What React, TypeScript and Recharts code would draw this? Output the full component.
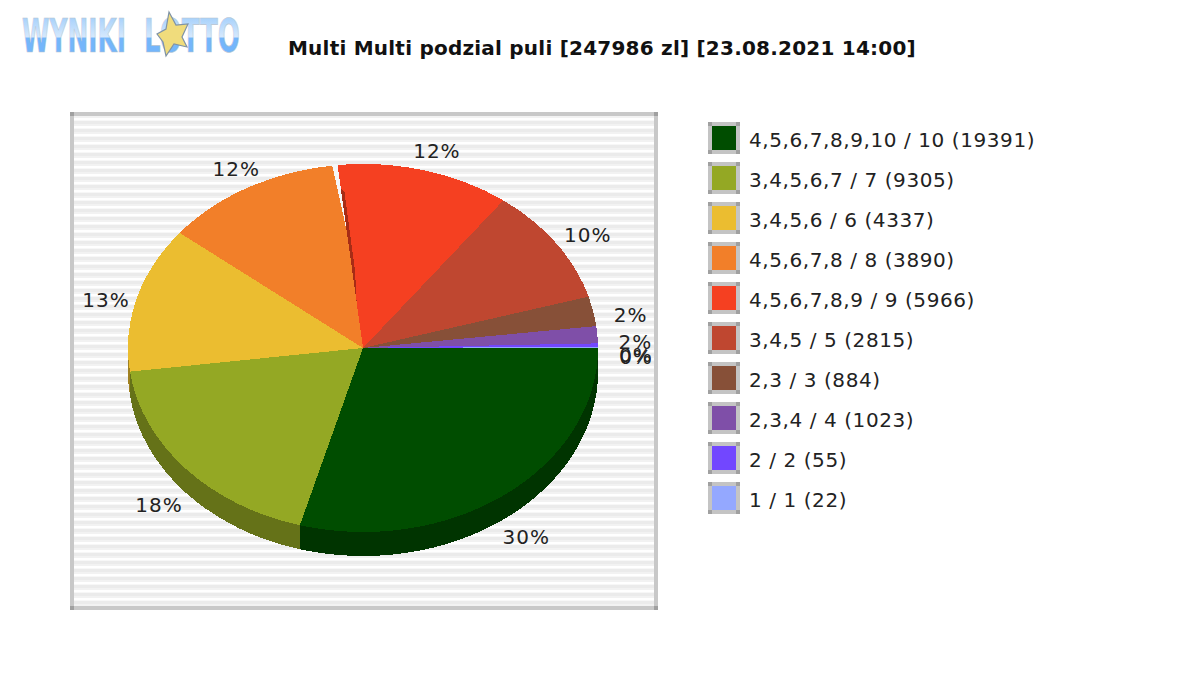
import React from "react";
import { PieChart, Pie, Legend } from "recharts";

const title = "Multi Multi podzial puli [247986 zl] [23.08.2021 14:00]";
const legendNames = [
  "4,5,6,7,8,9,10 / 10 (19391)",
  "3,4,5,6,7 / 7 (9305)",
  "3,4,5,6 / 6 (4337)",
  "4,5,6,7,8 / 8 (3890)",
  "4,5,6,7,8,9 / 9 (5966)",
  "3,4,5 / 5 (2815)",
  "2,3 / 3 (884)",
  "2,3,4 / 4 (1023)",
  "2 / 2 (55)",
  "1 / 1 (22)",
];
const shares = [29.3, 18.6, 12.8, 12.5, 11.9, 10.3, 2.6, 1.5, 0.3, 0.1];
const percentLabels = ["30%", "18%", "13%", "12%", "12%", "10%", "2%", "2%", "0%", "0%"];
const colors = ["#004d00", "#94a824", "#ebbd30", "#f27f29", "#f54021", "#bf4730", "#875038", "#7f4fa8", "#7247ff", "#94a8ff"];

const rows = legendNames.map((name, i) => ({ name, value: shares[i], fill: colors[i], pct: percentLabels[i] }));

const RATIO = 184 / 235;
const DEPTH = 24;
const FONT = "'DejaVu Sans', sans-serif";
const SEAM_SLICE = 4;

const pt = (cx: number, cy: number, rx: number, ry: number, deg: number) => {
  const r = (deg * Math.PI) / 180;
  return [cx + rx * Math.cos(r), cy + ry * Math.sin(r)];
};

const darken = (hex: string, k: number) => {
  const n = parseInt(hex.slice(1), 16);
  const c = [(n >> 16) & 255, (n >> 8) & 255, n & 255].map((v) => Math.round(v * k));
  return `rgb(${c[0]},${c[1]},${c[2]})`;
};

const TopSlice = (p: any) => {
  const rx = p.outerRadius;
  const ry = rx * RATIO;
  const a = -p.startAngle;
  const b = -p.endAngle;
  const [x0, y0] = pt(p.cx, p.cy, rx, ry, a);
  const [x1, y1] = pt(p.cx, p.cy, rx, ry, b);
  const large = b - a > 180 ? 1 : 0;
  const poly = (list: number[][]) =>
    list
      .map(([deg, f]) => pt(p.cx, p.cy, rx * f, ry * f, a + deg))
      .map((q) => q.join(","))
      .join(" ");
  return (
    <g>
      <path
        d={`M${p.cx},${p.cy}L${x0},${y0}A${rx},${ry} 0 ${large} 1 ${x1},${y1}Z`}
        fill={p.fill}
        stroke="none"
        shapeRendering="crispEdges"
      />
      {p.index === SEAM_SLICE && (
        <g shapeRendering="crispEdges">
          <polygon points={poly([[-1.3, 1.005], [0, 1.005], [0, 0.64]])} fill="#f6f6f6" />
          <polygon points={poly([[0, 0.87], [0.9, 0.85], [1.6, 0.42], [0, 0.25]])} fill={darken(p.fill, 0.68)} />
        </g>
      )}
    </g>
  );
};

const SideSlice = (p: any) => {
  const rx = p.outerRadius;
  const ry = rx * RATIO;
  const a = Math.max(-p.startAngle, 0);
  const b = Math.min(-p.endAngle, 180);
  if (a >= b) return <g />;
  const [x0, y0] = pt(p.cx, p.cy, rx, ry, a);
  const [x1, y1] = pt(p.cx, p.cy, rx, ry, b);
  return (
    <path
      d={`M${x0},${y0}A${rx},${ry} 0 0 1 ${x1},${y1}L${x1},${y1 + DEPTH}A${rx},${ry} 0 0 0 ${x0},${y0 + DEPTH}Z`}
      fill={darken(p.fill, 0.68)}
      stroke="none"
      shapeRendering="crispEdges"
    />
  );
};

const SliceLabel = (p: any) => {
  const t = (-p.midAngle * Math.PI) / 180;
  const s = Math.sin(t);
  const x = p.cx + (s < 0 ? 3 : 0) + 270 * Math.cos(t);
  const y = p.cy + 10 + s * (s < 0 ? 215 : 225);
  return (
    <text x={x} y={y} textAnchor="middle" dominantBaseline="central" fontFamily={FONT} fontSize={20} letterSpacing={1} fill="#222">
      {rows[p.index].pct}
    </text>
  );
};

const Corners = ({ size, w }: { size: number; w: number }) => (
  <>
    {[
      [-w, -w],
      [size, -w],
      [-w, size],
      [size, size],
    ].map(([l, t], j) => (
      <span key={j} style={{ position: "absolute", left: l, top: t, width: w, height: w, background: "#a0a0a0" }} />
    ))}
  </>
);

const LegendList = (props: any) => (
  <div>
    {(props.payload || [])
      .filter((e: any) => e.type !== "none")
      .map((e: any, i: number) => (
        <div key={i} style={{ height: 40, display: "flex", alignItems: "flex-start" }}>
          <div
            style={{
              width: 24,
              height: 24,
              border: "4px solid #c4c4c4",
              background: e.color,
              flex: "none",
              position: "relative",
            }}
          >
            <Corners size={24} w={4} />
          </div>
          <span
            style={{
              marginLeft: 9,
              fontFamily: FONT,
              fontSize: 20,
              letterSpacing: 0.58,
              lineHeight: "37px",
              color: "#222",
              whiteSpace: "nowrap",
            }}
          >
            {e.value}
          </span>
        </div>
      ))}
  </div>
);

const LOGO_SX = 0.56;

const Logo = () => (
  <svg width={260} height={70} style={{ position: "absolute", left: 0, top: 0 }}>
    <defs>
      <linearGradient id="logoFill" x1="0" y1="-34" x2="0" y2="0" gradientUnits="userSpaceOnUse">
        <stop offset="0" stopColor="#a9d2fb" />
        <stop offset="0.55" stopColor="#d4e8fd" />
        <stop offset="0.6" stopColor="#74b6fb" />
        <stop offset="1" stopColor="#74b6fb" />
      </linearGradient>
    </defs>
    <g transform={`translate(22,52) scale(${LOGO_SX},1)`}>
      <text x={0} y={0} fontFamily={FONT} fontWeight="bold" fontSize={46} textLength={104 / LOGO_SX} lengthAdjust="spacingAndGlyphs" fill="url(#logoFill)" stroke="#b8c4d0" strokeWidth={0.7}>
        WYNIKI
      </text>
    </g>
    <g transform={`translate(144,52) scale(${LOGO_SX},1)`}>
      <text x={0} y={0} fontFamily={FONT} fontWeight="bold" fontSize={46} textLength={96 / LOGO_SX} lengthAdjust="spacingAndGlyphs" fill="url(#logoFill)" stroke="#b8c4d0" strokeWidth={0.7}>
        LOTTO
      </text>
    </g>
    <polygon
      points="169,12 176,25 188,24 182,37 187,47 174,44 166,56 163,42 157,34 166,29"
      fill="#f0dc7c"
      stroke="#7f93a6"
      strokeWidth={1.2}
    />
  </svg>
);

const Frame = () => (
  <div
    style={{
      position: "absolute",
      left: 70,
      top: 112,
      width: 580,
      height: 490,
      border: "4px solid #c8c8c8",
      background:
        "repeating-linear-gradient(180deg,#f2f2f2 0,#f2f2f2 2px,#ffffff 2px,#ffffff 4px,#f7f7f7 4px,#f7f7f7 5px,#ebebeb 5px,#ebebeb 8px)",
    }}
  >
    <span style={{ position: "absolute", left: -4, top: -4, width: 4, height: 4, background: "#a0a0a0" }} />
    <span style={{ position: "absolute", left: 580, top: -4, width: 4, height: 4, background: "#a0a0a0" }} />
    <span style={{ position: "absolute", left: -4, top: 490, width: 4, height: 4, background: "#a0a0a0" }} />
    <span style={{ position: "absolute", left: 580, top: 490, width: 4, height: 4, background: "#a0a0a0" }} />
  </div>
);

export default function App() {
  return (
    <div style={{ position: "absolute", left: 0, top: 0, width: 1200, height: 680, background: "#fff", overflow: "hidden" }}>
      <Logo />
      <div
        style={{
          position: "absolute",
          left: 288,
          top: 36,
          fontFamily: FONT,
          fontWeight: "bold",
          fontSize: 20,
          letterSpacing: 0.22,
          lineHeight: "24px",
          color: "#111",
          whiteSpace: "nowrap",
        }}
      >
        {title}
      </div>
      <Frame />
      <div style={{ position: "absolute", left: 0, top: 0 }}>
        <PieChart width={1200} height={680} margin={{ top: 0, right: 0, bottom: 0, left: 0 }}>
          <Pie
            data={rows}
            dataKey="value"
            nameKey="name"
            cx={363}
            cy={348}
            innerRadius={0}
            outerRadius={235}
            startAngle={0}
            endAngle={-360}
            stroke="none"
            legendType="none"
            isAnimationActive={false}
            shape={SideSlice}
          />
          <Pie
            data={rows}
            dataKey="value"
            nameKey="name"
            cx={363}
            cy={348}
            innerRadius={0}
            outerRadius={235}
            startAngle={0}
            endAngle={-360}
            stroke="none"
            isAnimationActive={false}
            shape={TopSlice}
            label={SliceLabel}
            labelLine={false}
          />
          <Legend
            layout="vertical"
            align="right"
            verticalAlign="top"
            itemSorter={null}
            content={LegendList}
            wrapperStyle={{ left: 708, top: 122, width: 400, bottom: "auto", right: "auto" }}
          />
        </PieChart>
      </div>
    </div>
  );
}
